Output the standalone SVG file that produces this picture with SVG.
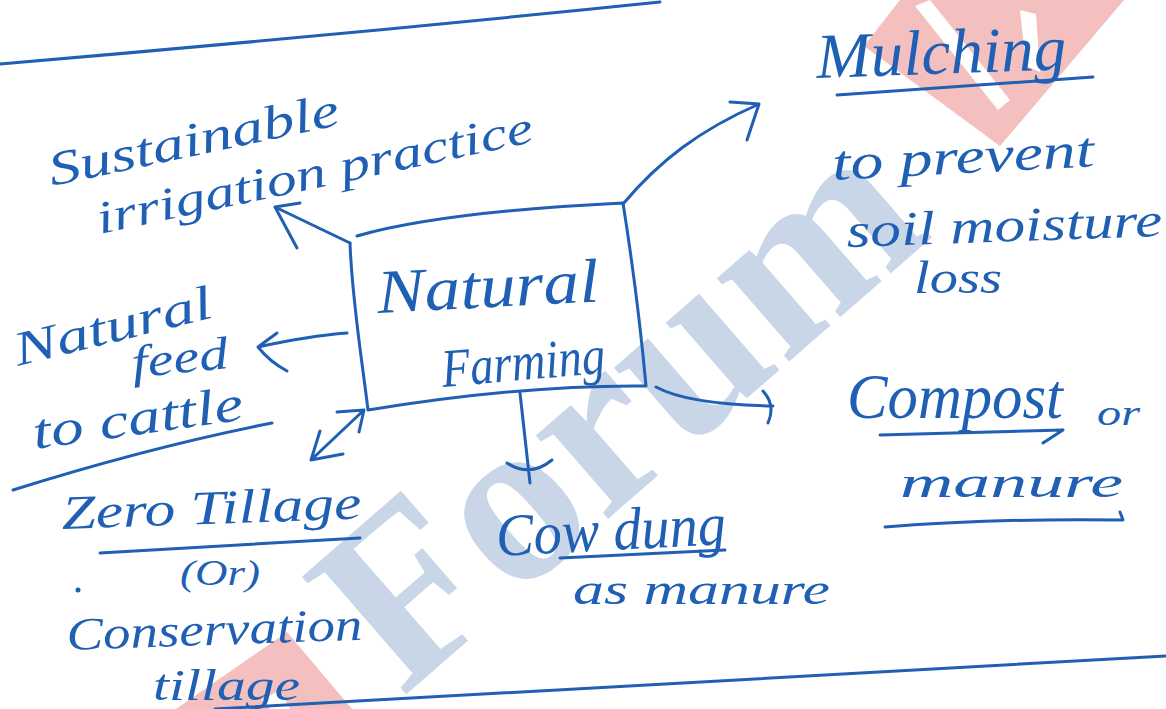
<svg xmlns="http://www.w3.org/2000/svg" width="1166" height="709" viewBox="0 0 1166 709">
  <style>
    .ink { fill: none; stroke: #1f5fb4; stroke-width: 3; stroke-linecap: round; stroke-linejoin: round; }
    .hand { fill: #1f5fb4; font-family: "Liberation Serif", serif; font-style: italic; }
    .wm-blue { fill: #c8d6e7; font-family: "Liberation Serif", serif; font-weight: bold; }
    .wm-red { fill: #f3bfbf; }
  </style>

  <rect width="1166" height="709" fill="#ffffff"/>

  <!-- background watermark -->
  <g id="watermark">
    <polygon class="wm-red" points="900,0 1124,0 1000,146 864,46"/>
    <polygon fill="#ffffff" points="915,6 930,0 1010,100 998,110"/>
    <polygon fill="#ffffff" points="1020,10 1036,14 1040,72 1026,66"/>
    <polygon class="wm-red" points="287,632 176,709 352,709"/>
    <polygon fill="#ffffff" points="262,700 280,690 290,709 270,709"/>
    <text class="wm-blue" x="0" y="0" font-size="240" transform="translate(402,698) rotate(-41)">Forum</text>
  </g>

  <!-- sheet ruling -->
  <g id="ruling">
    <path class="ink" d="M0,64 Q330,36 660,2"/>
    <path class="ink" d="M215,709 Q700,680 1166,656"/>
  </g>

  <!-- central box -->
  <g id="natural-farming">
    <path class="ink" d="M357,236 C420,218 520,208 623,203 C632,260 640,320 646,386 C560,385 460,395 368,410 C362,360 352,300 350,243"/>
    <text class="hand" x="0" y="0" font-size="62" textLength="222" lengthAdjust="spacingAndGlyphs" transform="translate(378,313) rotate(-3)">Natural</text>
    <text class="hand" x="0" y="0" font-size="54" textLength="164" lengthAdjust="spacingAndGlyphs" transform="translate(443,387) rotate(-5)">Farming</text>
  </g>

  <!-- connectors -->
  <g id="connectors">
    <path class="ink" d="M350,243 L275,207 M300,203 L275,207 L297,248"/>
    <path class="ink" d="M623,204 C660,160 700,130 759,104 M730,102 L759,104 L747,140"/>
    <path class="ink" d="M347,333 C320,335 290,340 258,347 M277,333 L258,347 Q270,362 287,371"/>
    <path class="ink" d="M364,410 L311,460 M337,412 L364,410 L359,432 M320,431 L311,460 L343,454"/>
    <path class="ink" d="M520,393 L530,483 M507,463 Q530,478 552,460"/>
    <path class="ink" d="M656,387 C680,400 720,405 773,406 M763,391 Q776,405 768,423"/>
  </g>

  <g id="sustainable-irrigation">
    <text class="hand" x="0" y="0" font-size="48" textLength="296" lengthAdjust="spacingAndGlyphs" transform="translate(52,186) rotate(-12)">Sustainable</text>
    <text class="hand" x="0" y="0" font-size="46" textLength="445" lengthAdjust="spacingAndGlyphs" transform="translate(100,234) rotate(-12)">irrigation practice</text>
  </g>

  <g id="natural-feed">
    <text class="hand" x="0" y="0" font-size="48" textLength="203" lengthAdjust="spacingAndGlyphs" transform="translate(18,366) rotate(-14)">Natural</text>
    <text class="hand" x="0" y="0" font-size="46" textLength="97" lengthAdjust="spacingAndGlyphs" transform="translate(133,378) rotate(-6)">feed</text>
    <text class="hand" x="0" y="0" font-size="50" textLength="212" lengthAdjust="spacingAndGlyphs" transform="translate(35,449) rotate(-8)">to cattle</text>
    <path class="ink" d="M13,490 Q150,447 272,423"/>
  </g>

  <g id="zero-tillage">
    <text class="hand" x="0" y="0" font-size="48" textLength="300" lengthAdjust="spacingAndGlyphs" transform="translate(62,529) rotate(-2)">Zero Tillage</text>
    <path class="ink" d="M100,553 L360,538"/>
    <text class="hand" x="180" y="585" font-size="36" textLength="80" lengthAdjust="spacingAndGlyphs">(Or)</text>
    <circle cx="78" cy="590" r="2.5" fill="#1f5fb4"/>
    <text class="hand" x="0" y="0" font-size="46" textLength="296" lengthAdjust="spacingAndGlyphs" transform="translate(67,650) rotate(-2)">Conservation</text>
    <text class="hand" x="153" y="700" font-size="44" textLength="147" lengthAdjust="spacingAndGlyphs">tillage</text>
  </g>

  <g id="mulching">
    <text class="hand" x="0" y="0" font-size="64" textLength="250" lengthAdjust="spacingAndGlyphs" transform="translate(817,78) rotate(-2)">Mulching</text>
    <path class="ink" d="M837,95 L1093,77"/>
    <text class="hand" x="0" y="0" font-size="50" textLength="262" lengthAdjust="spacingAndGlyphs" transform="translate(833,180) rotate(-3)">to prevent</text>
    <text class="hand" x="0" y="0" font-size="48" textLength="316" lengthAdjust="spacingAndGlyphs" transform="translate(847,247) rotate(-2)">soil moisture</text>
    <text class="hand" x="914" y="293" font-size="46" textLength="88" lengthAdjust="spacingAndGlyphs">loss</text>
  </g>

  <g id="compost">
    <text class="hand" x="847" y="418" font-size="64" textLength="216" lengthAdjust="spacingAndGlyphs">Compost</text>
    <text class="hand" x="1097" y="425" font-size="36" textLength="43" lengthAdjust="spacingAndGlyphs">or</text>
    <path class="ink" d="M880,435 L1063,430 M1043,443 L1063,430"/>
    <text class="hand" x="900" y="497" font-size="44" textLength="223" lengthAdjust="spacingAndGlyphs">manure</text>
    <path class="ink" d="M885,527 Q1000,518 1123,520 L1120,512"/>
  </g>

  <g id="cow-dung">
    <text class="hand" x="0" y="0" font-size="60" textLength="230" lengthAdjust="spacingAndGlyphs" transform="translate(497,556) rotate(-3)">Cow dung</text>
    <path class="ink" d="M560,558 L725,550"/>
    <text class="hand" x="573" y="604" font-size="44" textLength="257" lengthAdjust="spacingAndGlyphs">as manure</text>
  </g>
</svg>
